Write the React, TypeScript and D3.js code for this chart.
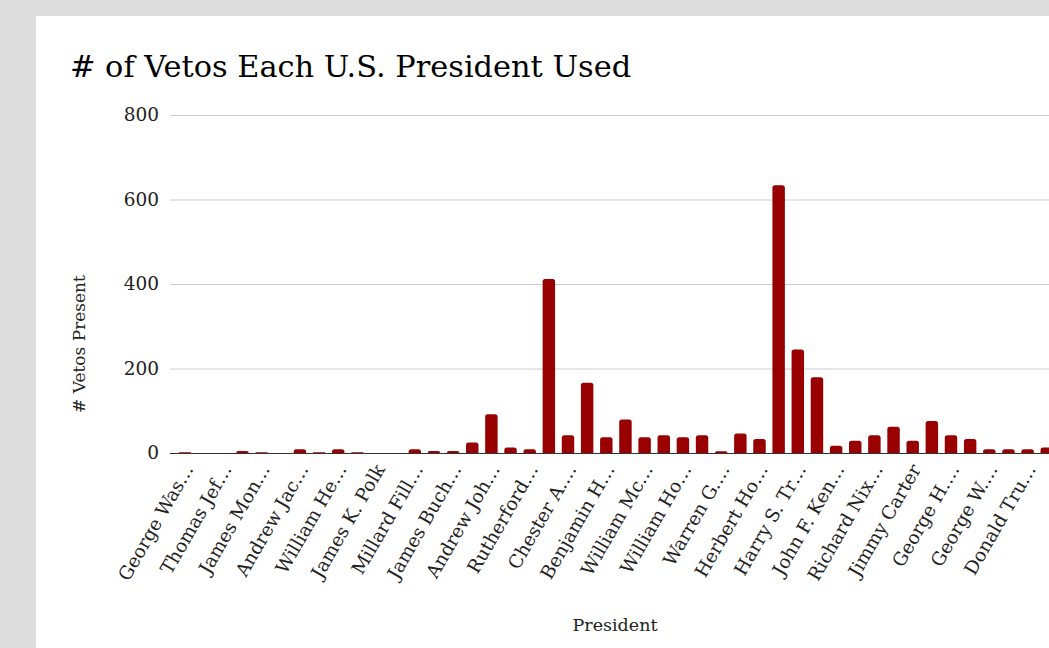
import React from "react";
import * as d3 from "d3";

const presidents: string[] = [
  "George Washington", "John Adams", "Thomas Jefferson", "James Madison", "James Monroe",
  "John Quincy Adams", "Andrew Jackson", "Martin Van Buren", "William Henry Harrison", "John Tyler",
  "James K. Polk", "Zachary Taylor", "Millard Fillmore", "Franklin Pierce", "James Buchanan",
  "Abraham Lincoln", "Andrew Johnson", "Ulysses S. Grant", "Rutherford B. Hayes", "James A. Garfield",
  "Chester A. Arthur", "Grover Cleveland", "Benjamin Harrison", "Grover Cleveland (2nd)", "William McKinley",
  "Theodore Roosevelt", "William Howard Taft", "Woodrow Wilson", "Warren G. Harding", "Calvin Coolidge",
  "Herbert Hoover", "Franklin D. Roosevelt", "Harry S. Truman", "Dwight D. Eisenhower", "John F. Kennedy",
  "Lyndon B. Johnson", "Richard Nixon", "Gerald Ford", "Jimmy Carter", "Ronald Reagan",
  "George H. W. Bush", "Bill Clinton", "George W. Bush", "Barack Obama", "Donald Trump", "Joe Biden",
];

const vetos: number[] = [
  2, 0, 0, 5, 2, 0, 9, 2, 9, 2,
  0, 0, 9, 5, 5, 25, 92, 13, 9, 412,
  42, 166, 37, 79, 37, 42, 37, 42, 4, 46,
  33, 634, 245, 179, 17, 29, 42, 62, 29, 76,
  42, 33, 9, 9, 9, 13,
];

// displayed (truncated) tick labels, shown on every other category
const tickLabels: string[] = [
  "George Was…", "Thomas Jef…", "James Mon…", "Andrew Jac…", "William He…", "James K. Polk",
  "Millard Fill…", "James Buch…", "Andrew Joh…", "Rutherford…", "Chester A.…", "Benjamin H…",
  "William Mc…", "William Ho…", "Warren G.…", "Herbert Ho…", "Harry S. Tr…", "John F. Ken…",
  "Richard Nix…", "Jimmy Carter", "George H.…", "George W.…", "Donald Tru…",
];

const yTicks: number[] = [0, 200, 400, 600, 800];

const W = 1049;
const H = 648;
const FONT = "'DejaVu Serif', Georgia, serif";

export default function App() {
  const y = d3.scaleLinear().domain([0, 800]).range([453, 115]);
  const step = 19.15;
  const x0 = 185 - step / 2;
  const x = d3
    .scaleBand<number>()
    .domain(d3.range(presidents.length))
    .range([x0, x0 + step * presidents.length])
    .paddingInner(0.35)
    .paddingOuter(0.175);
  const bw = x.bandwidth();
  const r = 2.5;

  const barPath = (i: number) => {
    const v = vetos[i];
    if (v <= 0) return "";
    const left = x(i)!;
    const top = y(v);
    const base = y(0);
    const h = base - top;
    const rr = Math.min(r, h, bw / 2);
    const p = d3.path();
    p.moveTo(left, base);
    p.lineTo(left, top + rr);
    p.quadraticCurveTo(left, top, left + rr, top);
    p.lineTo(left + bw - rr, top);
    p.quadraticCurveTo(left + bw, top, left + bw, top + rr);
    p.lineTo(left + bw, base);
    p.closePath();
    return p.toString();
  };

  return (
    <svg
      width={W}
      height={H}
      style={{ position: "absolute", left: 0, top: 0, display: "block" }}
      fontFamily={FONT}
    >
      <rect x={0} y={0} width={W} height={H} fill="#dddddd" />
      <rect x={36} y={16} width={W - 36} height={H - 16} fill="#ffffff" />

      <text x={70} y={77} fontSize={30.4} fill="#000">
        # of Vetos Each U.S. President Used
      </text>

      {yTicks.map((t) => (
        <g key={t}>
          {t !== 0 && (
            <line x1={170} x2={W} y1={y(t) + 0.5} y2={y(t) + 0.5} stroke="#cccccc" strokeWidth={1} />
          )}
          <text
            x={159}
            y={y(t) + 1}
            fontSize={18.5}
            textAnchor="end"
            dominantBaseline="middle"
            fill="#222"
          >
            {t}
          </text>
        </g>
      ))}

      <line x1={170} x2={W} y1={y(0) + 0.5} y2={y(0) + 0.5} stroke="#333333" strokeWidth={1.2} />

      {vetos.map((v, i) => (
        <path key={i} d={barPath(i)} fill="#990000" />
      ))}

      {tickLabels.map((lab, k) => {
        const i = k * 2;
        const cx = x(i)! + bw / 2 + 9;
        const cy = 469;
        return (
          <text
            key={lab}
            x={cx}
            y={cy}
            fontSize={18.5}
            textAnchor="end"
            transform={`rotate(-60, ${cx}, ${cy})`}
            fill="#222"
          >
            {lab}
          </text>
        );
      })}

      <text
        x={85}
        y={344}
        fontSize={17}
        textAnchor="middle"
        transform="rotate(-90, 85, 344)"
        fill="#222"
      >
        # Vetos Present
      </text>

      <text x={615} y={631} fontSize={17.5} textAnchor="middle" fill="#222">
        President
      </text>
    </svg>
  );
}
